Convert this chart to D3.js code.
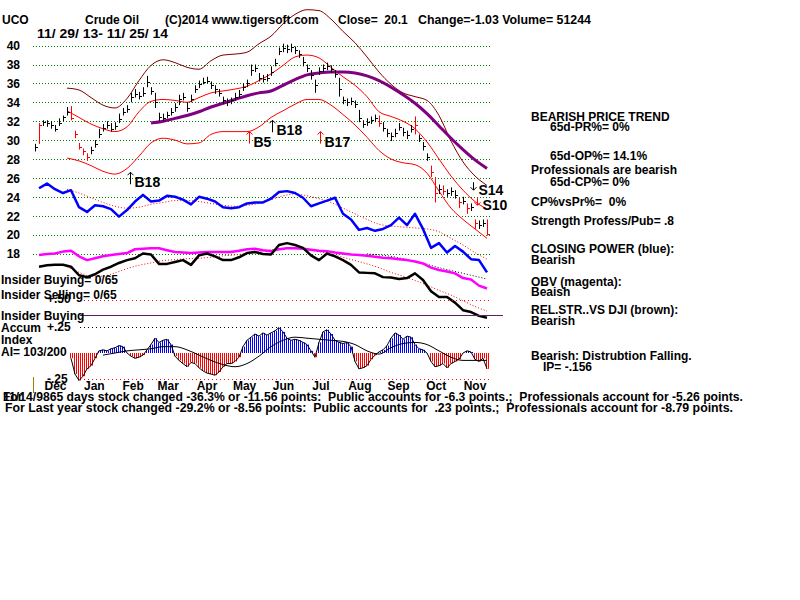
<!DOCTYPE html>
<html><head><meta charset="utf-8">
<script src="https://cdn.jsdelivr.net/npm/d3@7"></script>
<style>
body{margin:0;background:#fff}
svg text{font-family:"Liberation Sans",Arial,sans-serif;font-weight:bold;font-size:12px;fill:#000;white-space:pre}
</style></head><body>
<svg id="c" width="800" height="600"></svg>
<script>
// ---------------- DATA ----------------
const closes=[29.3,31.6,31.9,31.8,31.6,31.2,31.8,32.4,33.0,32.3,30.6,29.3,28.8,28.2,28.9,29.6,30.6,31.3,31.6,31.2,
31.5,32.2,33.0,33.3,34.6,34.9,34.7,35.0,36.2,35.2,34.0,32.4,32.3,32.7,33.0,33.5,34.3,34.6,33.4,34.4,
35.4,35.9,36.2,36.3,35.8,35.4,35.0,34.2,34.0,34.2,34.6,34.9,35.6,36.0,37.4,37.6,36.6,36.5,36.6,37.2,
38.2,39.4,39.7,39.6,39.8,39.5,39.1,38.3,37.6,36.9,35.8,37.3,37.6,37.8,37.5,37.0,35.4,34.2,34.0,34.1,
33.8,32.3,31.7,31.9,32.1,32.3,31.8,31.3,30.7,30.4,30.8,31.4,30.9,30.5,31.2,31.6,30.2,29.4,28.2,26.6,
24.4,24.8,24.6,24.4,24.6,24.2,23.4,23.6,22.8,22.9,21.2,21.0,21.2,20.1];
const highs=[29.6,31.8,32.1,32.1,32.0,31.6,32.3,32.6,33.5,33.6,31.0,29.7,29.1,28.6,29.3,30.0,31.2,31.7,32.0,31.8,
31.9,32.8,33.4,33.7,35.0,35.4,35.1,35.6,36.8,35.6,35.0,32.9,32.8,33.0,33.4,33.9,34.8,35.0,34.0,34.8,
35.8,36.3,36.6,36.7,36.2,35.8,35.4,34.6,34.4,34.5,35.0,35.3,36.0,36.4,38.0,38.0,37.1,36.9,37.0,37.8,
38.6,39.8,40.2,40.1,40.2,39.9,39.5,38.8,38.0,37.4,36.4,37.7,38.0,38.2,37.9,37.4,36.6,34.6,34.4,34.5,
34.2,33.2,32.1,32.3,32.5,32.7,32.6,31.9,31.2,30.8,31.2,31.8,31.3,31.0,31.6,32.5,30.6,29.8,28.6,27.3,
26.1,25.3,25.2,24.8,25.0,24.7,23.9,24.0,23.3,23.3,21.6,21.5,21.6,21.6];
const lows=[28.8,29.6,31.5,31.4,31.2,30.9,31.5,32.0,32.6,32.1,30.2,29.0,28.4,27.8,28.5,29.2,30.2,30.9,31.2,30.9,
31.1,31.8,32.6,32.9,34.0,34.5,34.3,34.6,35.6,34.8,33.4,32.0,32.0,32.3,32.6,33.0,33.7,34.2,33.0,34.0,
35.0,35.5,35.9,36.0,35.4,34.9,34.6,33.8,33.6,33.8,34.2,34.5,35.2,35.6,36.8,37.2,36.2,36.1,36.2,36.8,
37.8,39.0,39.3,39.2,39.3,39.1,38.7,37.8,37.2,36.4,35.0,36.9,37.2,37.4,37.1,36.6,34.6,33.8,33.6,33.7,
33.4,31.9,31.3,31.5,31.7,31.9,31.4,30.9,30.3,29.9,30.3,31.0,30.4,30.1,30.8,30.6,29.8,28.9,27.8,26.1,
23.4,24.3,24.2,24.0,24.1,23.8,22.8,23.2,22.2,22.5,20.6,20.6,20.8,19.9];
const distributionDays=[1,9,10,11,12,13,86,95,99,100,102,106,108,110,113];

// bands (every 3rd bar from bar 8)
const bandUpperOuter=[35.5,35.3,34.5,33.7,33.4,34.4,36.3,37.9,38.5,38.2,37.7,37.5,38.4,39.0,39.1,39.3,40.2,41.0,
42.3,43.3,43.8,43.7,42.8,41.5,40.3,38.8,37.2,35.9,35.0,34.6,34.2,32.6,29.9,27.7,26.2,25.2];
const bandUpper=[33.1,32.4,31.7,31.2,30.9,31.4,33.0,34.1,34.3,34.2,34.0,34.5,35.0,35.2,35.4,35.7,36.3,37.0,
37.9,38.8,39.0,38.7,37.7,36.7,35.8,34.6,33.0,32.5,32.0,31.2,29.8,28.0,26.2,24.7,23.5,22.7];
const bandLower=[28.1,27.8,27.3,26.7,26.4,27.0,28.3,29.7,30.2,30.0,29.6,29.7,30.6,30.9,30.9,30.9,31.4,32.4,
33.1,33.8,34.3,34.3,33.7,32.7,31.6,30.3,28.9,28.0,27.6,27.4,26.5,24.6,22.8,21.6,20.6,19.6];
const ma65=[31.8,32.0,32.3,32.6,33.0,33.5,33.9,34.3,34.7,35.0,35.2,35.8,36.4,36.9,37.1,37.2,37.2,37.1,36.8,
36.3,35.6,34.8,33.9,32.8,31.5,30.2,29.0,27.9,27.0];

// indicators (every 2nd bar from bar 1)
const closingPower=[24.9,25.4,24.8,24.4,24.7,22.9,22.4,23.1,23.0,22.7,21.9,22.6,23.5,24.2,23.5,23.6,24.1,24.0,
23.7,23.2,24.0,23.8,23.5,22.9,22.8,22.9,23.3,23.4,23.4,23.8,24.5,24.6,24.4,23.9,23.0,23.3,23.6,23.9,22.2,
21.6,20.5,20.7,20.4,20.6,21.0,21.8,21.0,22.2,20.6,18.6,19.1,18.1,18.8,18.2,17.4,17.3,16.0];
const obv=[17.85,17.95,18.0,18.2,18.3,17.7,17.3,17.5,17.7,17.85,17.95,18.05,18.45,18.5,18.55,18.55,18.35,18.15,
18.1,18.05,18.1,18.15,18.15,18.15,18.15,18.3,18.45,18.5,18.35,18.25,18.45,18.55,18.55,18.5,18.4,18.3,18.25,
18.1,18.0,17.9,17.85,17.75,17.65,17.55,17.5,17.4,17.3,17.15,16.95,16.5,16.25,16.1,15.9,15.4,15.25,14.6,14.3];
const relStrength=[16.6,16.75,16.8,16.8,16.6,15.7,15.5,15.8,16.3,16.6,17.0,17.3,17.5,18.0,17.9,16.9,16.9,17.1,
17.3,16.8,17.8,18.0,17.7,17.3,17.3,17.6,18.05,18.15,17.95,17.9,18.9,19.1,18.9,18.6,17.8,17.3,18.0,17.7,17.3,
16.8,16.0,15.95,15.9,15.5,15.45,15.3,15.4,15.9,15.2,14.0,13.4,13.4,12.8,12.0,11.8,11.4,11.2];
// moving averages of indicators (band spacing)
const cpMA=[24.8,24.4,23.9,23.4,23.0,22.8,22.9,23.2,23.4,23.6,23.6,23.5,23.3,23.1,23.0,23.1,23.3,23.7,24.1,24.3,
24.1,23.8,23.4,22.8,22.2,21.6,21.1,20.9,20.8,20.7,20.6,20.3,19.6,18.9,18.1,17.4];
const rsMA=[16.6,16.0,15.6,15.6,15.95,16.4,16.75,17.0,17.25,17.35,17.45,17.5,17.6,17.75,17.85,18.0,18.2,18.4,
18.5,18.55,18.4,18.2,17.95,17.6,17.25,16.9,16.5,16.0,15.6,15.15,14.65,14.1,13.6,13.0,12.4,11.9];
const obvMA=[17.95,17.85,17.7,17.45,17.15,16.85,16.5,16.2,15.9,15.6,15.3];

// accumulation index (from bar 9)
const accumIndex=[-0.05,-0.2,-0.26,-0.22,-0.15,-0.12,-0.05,0.02,0.03,0.02,0.04,0.05,0.07,0.06,0.0,-0.03,-0.05,-0.04,
-0.02,0.03,0.08,0.14,0.1,0.12,0.13,0.08,-0.03,-0.07,-0.1,-0.13,-0.09,-0.1,-0.14,-0.17,-0.19,-0.2,-0.21,-0.18,
-0.13,-0.1,-0.1,-0.08,-0.04,0.06,0.12,0.15,0.18,0.16,0.19,0.17,0.19,0.21,0.24,0.2,0.14,0.12,0.13,0.12,0.1,0.08,
0.02,-0.04,0.1,0.2,0.22,0.18,0.12,0.1,0.09,0.1,0.06,-0.08,-0.15,-0.14,-0.12,-0.06,-0.02,0.01,0.03,0.07,0.14,
0.19,0.17,0.13,0.16,0.15,0.08,0.04,0.03,0.0,-0.08,-0.13,-0.12,-0.1,-0.14,-0.1,-0.08,-0.06,0.0,0.02,0.01,-0.06,
-0.08,-0.05,-0.15];
const accumMA=[-0.02,0.0,0.02,0.03,0.04,0.06,0.06,0.03,-0.02,-0.07,-0.11,-0.13,-0.1,-0.03,0.06,0.12,0.15,0.14,
0.13,0.12,0.11,0.08,0.02,-0.01,0.05,0.09,0.1,0.08,0.02,-0.04,-0.07,-0.07,-0.07];

const priceTicks=[18,20,22,24,26,28,30,32,34,36,38,40];
const monthLabels=["Dec","Jan","Feb","Mar","Apr","May","Jun","Jul","Aug","Sep","Oct","Nov"];
const aiLevels=[0.5,0.25,-0.25];
const signals=[
 {name:"B18",date:"2014-02-13",level:26.6},
 {name:"B5",date:"2014-05-19",level:30.9},
 {name:"B18",date:"2014-06-06",level:32.1},
 {name:"B17",date:"2014-07-15",level:30.9},
 {name:"S14",date:"2014-11-14",level:24.7},
 {name:"S10",date:"2014-11-17",level:23.1}
];

// ---------------- CHART ----------------
const svg=d3.select("#c");
const N=closes.length;
const x=d3.scaleLinear().domain([0,N-1]).range([35,487]);
const xt=d3.scaleTime().domain([new Date(2013,10,29),new Date(2014,10,25)]).range([35,487]);
const y=d3.scaleLinear().domain([18,40]).range([253.5,45.6]);
const ya=d3.scaleLinear().domain([-0.25,0.5]).range([379.4,300.2]);

function txt(g,xx,yy,s,size,len){
 const t=g.append("text").attr("x",xx).attr("y",yy).text(s).style("font-size",(size||12)+"px");
 if(len)t.attr("textLength",len).attr("lengthAdjust","spacingAndGlyphs");
 return t;
}

// grid
svg.append("g").selectAll("line").data(priceTicks).join("line")
 .attr("x1",33).attr("x2",490).attr("y1",d=>Math.round(y(d))+0.5).attr("y2",d=>Math.round(y(d))+0.5)
 .attr("stroke","#008000").attr("stroke-dasharray","1,2");
// y axis labels
const ya1=svg.append("g").attr("transform","translate(27,0)")
 .call(d3.axisLeft(y).tickValues(priceTicks).tickSize(0).tickPadding(7));
ya1.select(".domain").remove();
ya1.selectAll("text").style("font-size","12px").attr("font-family",null).attr("dy","0.36em");

// series helper
function series(arr,start,step,color,width,dash,curve){
 const ln=d3.line().x((d,k)=>x(start+k*step)).y(d=>y(d)).curve(curve||d3.curveLinear);
 const p=svg.append("path").attr("d",ln(arr)).attr("fill","none").attr("stroke",color).attr("stroke-width",width)
  .attr("stroke-linejoin","round");
 if(dash)p.attr("stroke-dasharray",dash);
 return p;
}
// bands
series(bandUpperOuter,8,3,"#800000",1,null,d3.curveMonotoneX);
series(bandUpper,8,3,"#ff0000",1,null,d3.curveMonotoneX);
series(bandLower,8,3,"#ff0000",1,null,d3.curveMonotoneX);
// indicator MAs
series(cpMA,8,3,"#ff0000",1,"1,2",d3.curveMonotoneX);
series(rsMA,8,3,"#ff0000",1,"1,2",d3.curveMonotoneX);
series(obvMA,8+3*25,3,"#000",1,"1,2",d3.curveMonotoneX);
// indicators
series(obv,1,2,"#ff00ff",2.5);
series(relStrength,1,2,"#000",2.5);
series(closingPower,1,2,"#0000ff",2.5);
// 65-day MA
series(ma65,8+3*7,3,"#800080",3,null,d3.curveMonotoneX);

// price bars
const red=new Set(distributionDays);
const bars=svg.append("g");
closes.forEach((c,i)=>{
 const col=red.has(i)?"#ff0000":"#000";
 const xx=Math.round(x(i))+0.5;
 bars.append("line").attr("x1",xx).attr("x2",xx).attr("y1",y(highs[i])).attr("y2",y(lows[i])).attr("stroke",col);
 bars.append("line").attr("x1",xx).attr("x2",xx+2.5).attr("y1",Math.round(y(c))+0.5).attr("y2",Math.round(y(c))+0.5).attr("stroke",col);
});

// signals
const redSig=new Set(["B5","B17","S10"]);
signals.forEach(s=>{
 const ax=Math.round(xt(new Date(s.date+"T00:00")))+0.5, ty=y(s.level);
 const col=redSig.has(s.name)?"#ff0000":"#000";
 const g=svg.append("g");
 if(s.name[0]==="B"){
  g.append("path").attr("d",`M${ax},${ty+12}V${ty}M${ax-3},${ty+3}L${ax},${ty}L${ax+3},${ty+3}`).attr("stroke",col).attr("fill","none");
  txt(g,ax+4,ty+15,s.name,14);
 }else{
  g.append("path").attr("d",`M${ax},${ty-8}V${ty}M${ax-3},${ty-3}L${ax},${ty}L${ax+3},${ty-3}`).attr("stroke",col).attr("fill","none");
  txt(g,ax+5,ty+5,s.name,14);
 }
});

// accumulation panel
svg.append("g").selectAll("line").data(aiLevels).join("line")
 .attr("x1",80).attr("x2",490).attr("y1",d=>Math.round(ya(d))+0.5).attr("y2",d=>Math.round(ya(d))+0.5)
 .attr("stroke",d=>d===0.25?"#000":"#ff0000").attr("stroke-dasharray","1,3");
svg.append("line").attr("x1",80).attr("x2",503).attr("y1",315.5).attr("y2",315.5).attr("stroke","#602060");
const hist=svg.append("g");
accumIndex.forEach((v,k)=>{
 const xx=Math.round(x(9+k));
 const col=v>=0?"#0000ff":"#ff0000";
 [-1,1].forEach(o=>hist.append("line").attr("x1",xx+o+0.5).attr("x2",xx+o+0.5).attr("y1",ya(0)).attr("y2",ya(v)).attr("stroke",col));
});
const aln=d3.line().x((d,k)=>x(9+k)).y(d=>ya(d));
svg.append("path").attr("d",aln(accumIndex)).attr("fill","none").attr("stroke","#000").attr("stroke-width",1);
const amln=d3.line().x((d,k)=>x(8+3*(3+k))).y(d=>ya(d)).curve(d3.curveMonotoneX);
svg.append("path").attr("d",amln(accumMA)).attr("fill","none").attr("stroke","#000").attr("stroke-width",1);

// month axis
const monthTicks=d3.timeMonth.range(new Date(2013,11,1),new Date(2014,11,1)).map(d=>d3.timeDay.offset(d,14));
const xa=svg.append("g").attr("transform","translate(0,378)")
 .call(d3.axisBottom(xt).tickValues(monthTicks).tickFormat((d,i)=>monthLabels[i]).tickSize(0).tickPadding(3.5));
xa.select(".domain").remove();
xa.selectAll("text").style("font-size","12px").attr("font-family",null);
svg.append("line").attr("x1",33.5).attr("x2",33.5).attr("y1",377).attr("y2",393).attr("stroke","#a08000");

// header
const h=svg.append("g");
txt(h,2,23.5,"UCO");
txt(h,85,23.5,"Crude Oil");
txt(h,165,23.5,"(C)2014 www.tigersoft.com");
txt(h,338,23.5,"Close=  20.1");
txt(h,418,23.5,"Change=-1.03 Volume= 51244",12,173);
txt(h,37,37.5,"11/ 29/ 13- 11/ 25/ 14",12,131);

// left labels
const l=svg.append("g");
txt(l,47,303,"+.50");
txt(l,1,284,"Insider Buying= 0/65");
txt(l,1,298.5,"Insider Selling= 0/65");
txt(l,1,320,"Insider Buying");
txt(l,1,332,"Accum");
txt(l,47,331,"+.25");
txt(l,1,344,"Index");
txt(l,1,356,"AI= 103/200");
txt(l,47,383,"-.25");

// right notes
const notes=[["BEARISH PRICE TREND",531,120.7],["65d-PR%= 0%",550,130.7],["65d-OP%= 14.1%",550,160],
 ["Professionals are bearish",531,174],["65d-CP%= 0%",550,185.7],["CP%vsPr%=  0%",531,206],
 ["Strength Profess/Pub= .8",531,225],["CLOSING POWER (blue):",531,253.3],["Bearish",531,264],
 ["OBV (magenta):",531,286],["Beaish",531,296],["REL.STR..VS DJI (brown):",531,314],["Bearish",531,325],
 ["Bearish: Distrubtion Falling.",531,360],["IP= -.156",543,370.7]];
const r=svg.append("g");
notes.forEach(n=>txt(r,n[1],n[2],n[0]));

// bottom lines
const b=svg.append("g");
txt(b,3,400.5,"For");
txt(b,3,400.5,"11/14/9865 days stock changed -36.3% or -11.56 points:  Public accounts for -6.3 points.;  Professionals account for -5.26 points.",12,740);
txt(b,5,411.5,"For Last year stock changed -29.2% or -8.56 points:  Public accounts for  .23 points.;  Professionals account for -8.79 points.",12,728);
</script></body></html>
